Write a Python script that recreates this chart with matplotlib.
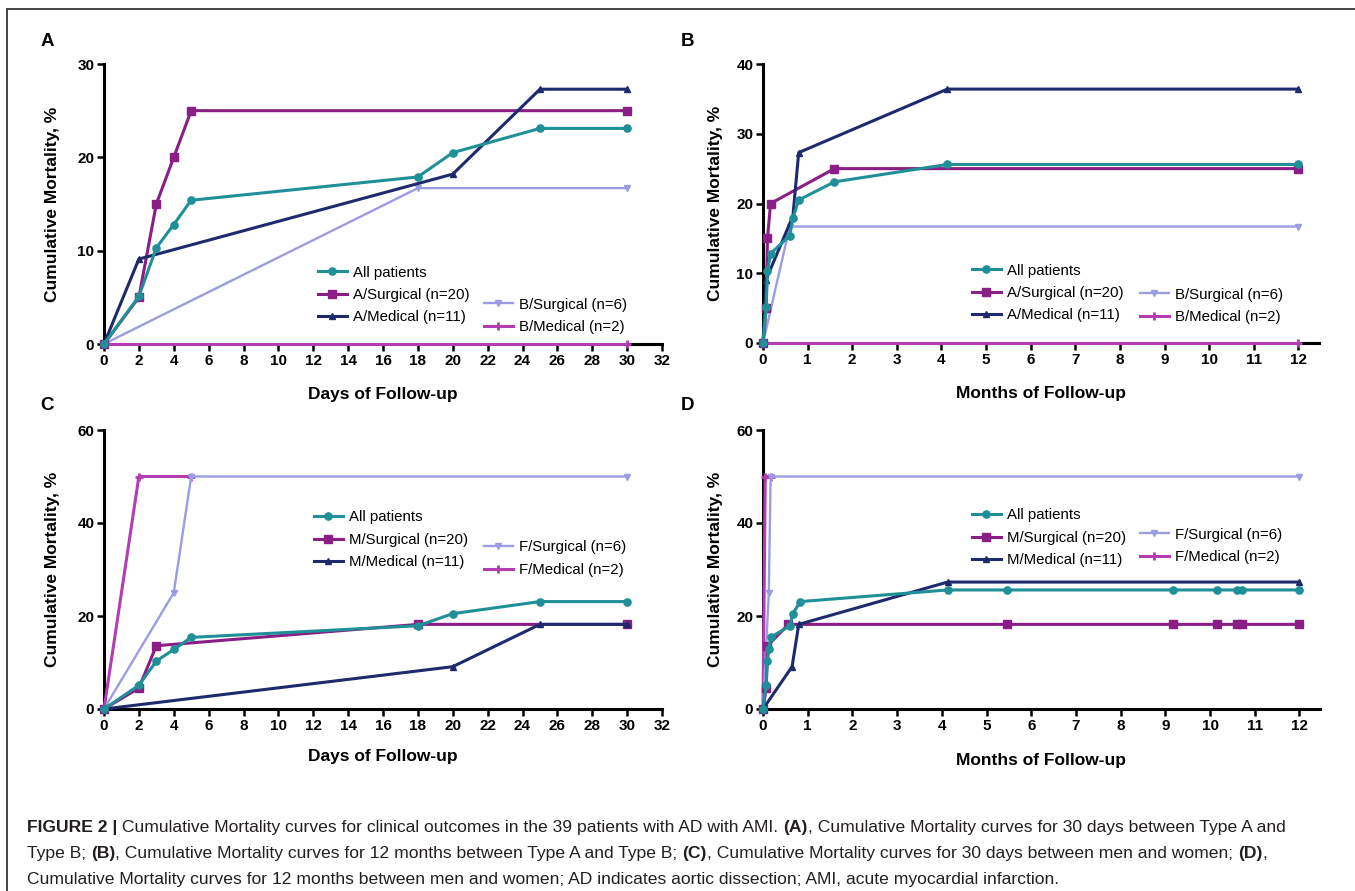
import matplotlib
matplotlib.use("Agg")
import matplotlib.pyplot as plt

plt.rcParams["font.family"] = ["Liberation Sans", "DejaVu Sans"]

W, H = 1355, 891

# ---- Panel A: 30 days, Type A vs Type B ----
a_all_x = [0, 2, 3, 4, 5, 18, 20, 25, 30]
a_all_y = [0, 5.1, 10.3, 12.8, 15.4, 17.9, 20.5, 23.1, 23.1]
a_surg_x = [0, 2, 3, 4, 5, 30]
a_surg_y = [0, 5, 15, 20, 25, 25]
a_med_x = [0, 2, 20, 25, 30]
a_med_y = [0, 9.1, 18.2, 27.3, 27.3]
b_surg_x = [0, 18, 30]
b_surg_y = [0, 16.7, 16.7]
b_med_x = [0, 30]
b_med_y = [0, 0]

# ---- Panel B: 12 months, Type A vs Type B ----
mb_all_x = [0, 0.07, 0.1, 0.17, 0.6, 0.67, 0.8, 1.6, 4.13, 12]
mb_all_y = [0, 5.1, 10.3, 12.8, 15.4, 17.9, 20.5, 23.1, 25.6, 25.6]
mb_asurg_x = [0, 0.07, 0.1, 0.17, 1.6, 12]
mb_asurg_y = [0, 5, 15, 20, 25, 25]
mb_amed_x = [0, 0.07, 0.67, 0.8, 4.13, 12]
mb_amed_y = [0, 9.1, 18.2, 27.3, 36.4, 36.4]
mb_bsurg_x = [0, 0.6, 12]
mb_bsurg_y = [0, 16.7, 16.7]
mb_bmed_x = [0, 12]
mb_bmed_y = [0, 0]

# ---- Panel C: 30 days, men vs women ----
c_all_x = [0, 2, 3, 4, 5, 18, 20, 25, 30]
c_all_y = [0, 5.1, 10.3, 12.8, 15.4, 17.9, 20.5, 23.1, 23.1]
c_msurg_x = [0, 2, 3, 18, 30]
c_msurg_y = [0, 4.5, 13.6, 18.2, 18.2]
c_mmed_x = [0, 20, 25, 30]
c_mmed_y = [0, 9.1, 18.2, 18.2]
c_fsurg_x = [0, 4, 5, 30]
c_fsurg_y = [0, 25, 50, 50]
c_fmed_x = [0, 2, 5]
c_fmed_y = [0, 50, 50]

# ---- Panel D: 12 months, men vs women ----
d_all_x = [0, 0.07, 0.1, 0.13, 0.17, 0.6, 0.67, 0.83, 4.13, 5.46, 9.17, 10.15, 10.6, 10.72, 12]
d_all_y = [0, 5.1, 10.3, 12.8, 15.4, 17.9, 20.5, 23.1, 25.6, 25.6, 25.6, 25.6, 25.6, 25.6, 25.6]
d_msurg_x = [0, 0.07, 0.1, 0.57, 5.46, 9.17, 10.15, 10.6, 10.72, 12]
d_msurg_y = [0, 4.5, 13.6, 18.2, 18.2, 18.2, 18.2, 18.2, 18.2, 18.2]
d_mmed_x = [0, 0.65, 0.8, 4.13, 12]
d_mmed_y = [0, 9.1, 18.2, 27.3, 27.3]
d_fsurg_x = [0, 0.13, 0.17, 12]
d_fsurg_y = [0, 25, 50, 50]
d_fmed_x = [0, 0.05, 0.17]
d_fmed_y = [0, 50, 50]

labels_type = ["All patients", "A/Surgical (n=20)", "A/Medical (n=11)",
               "B/Surgical (n=6)", "B/Medical (n=2)"]
labels_sex = ["All patients", "M/Surgical (n=20)", "M/Medical (n=11)",
              "F/Surgical (n=6)", "F/Medical (n=2)"]

day_ticks = list(range(0, 33, 2))
month_ticks = list(range(0, 13))

# colour, marker, markersize, linewidth
styles = [
    ("#1f8f98", "o", 5.2, 2.2),
    ("#8a1d86", "s", 5.2, 2.2),
    ("#1e2a6c", "^", 4.8, 2.2),
    ("#9c9ce4", "v", 4.8, 1.7),
    ("#b23db4", "+", 5.5, 2.2),
]

fig = plt.figure(figsize=(W / 100, H / 100), dpi=100)
cap = fig.add_axes([0, 0, 1, 1])
cap.axis("off")
cap.set_xlim(0, W)
cap.set_ylim(H, 0)

# frame of the figure
cap.plot([7, W], [8.5, 8.5], color="#444444", lw=1.4, clip_on=False)
cap.plot([7, 7], [8.5, H], color="#444444", lw=1.4, clip_on=False)


def px_axes(left, right, top, bottom):
    return fig.add_axes([left / W, 1 - bottom / H, (right - left) / W, (bottom - top) / H])


def draw_panel(ax, xs, ys, labels, xmax, xticks, ymax, yticks, xlabel,
               xlab_y, ylab_x, leg1, leg2):
    handles = [None] * 5
    for i in [4, 3, 1, 2, 0]:
        c, m, ms, lw = styles[i]
        mew = 2.0 if m == "+" else 1.0
        handles[i], = ax.plot(xs[i], ys[i], color=c, marker=m, ms=ms, lw=lw,
                              mew=mew, mec=c, label=labels[i], clip_on=False, zorder=3)
    ax.set_xlim(0, xmax)
    ax.set_ylim(0, ymax)
    ax.set_xticks(xticks)
    ax.set_yticks(yticks)
    for s in ["top", "right"]:
        ax.spines[s].set_visible(False)
    for s in ["left", "bottom"]:
        ax.spines[s].set_linewidth(2.2)
    ax.tick_params(direction="out", length=5, width=1.8, pad=2, labelsize=11)
    for t in ax.get_xticklabels() + ax.get_yticklabels():
        t.set_fontweight("bold")
    ax.set_xlabel(xlabel, fontsize=12.5, fontweight="bold")
    ax.set_ylabel("Cumulative Mortality, %", fontsize=12.5, fontweight="bold")
    ax.xaxis.set_label_coords(0.5, xlab_y)
    ax.xaxis.label.set_va("center")
    ax.yaxis.set_label_coords(ylab_x, 0.5)
    ax.yaxis.label.set_va("center")

    kw = dict(frameon=False, fontsize=10.8, handlelength=1.9, handletextpad=0.45,
              labelspacing=0.55, borderpad=0, borderaxespad=0, numpoints=1,
              loc="upper left", bbox_transform=cap.transData)
    l1 = ax.legend(handles=handles[:3], bbox_to_anchor=(leg1[0], leg1[1] - 8.5), **kw)
    ax.add_artist(l1)
    ax.legend(handles=handles[3:], bbox_to_anchor=(leg2[0], leg2[1] - 8.5), **kw)


axA = px_axes(104, 662, 64, 344)
draw_panel(axA,
           [a_all_x, a_surg_x, a_med_x, b_surg_x, b_med_x],
           [a_all_y, a_surg_y, a_med_y, b_surg_y, b_med_y],
           labels_type, 32, day_ticks, 30, [0, 10, 20, 30],
           "Days of Follow-up", -0.179, -0.093, (318, 274), (484, 306))

axB = px_axes(763, 1319, 64, 343)
draw_panel(axB,
           [mb_all_x, mb_asurg_x, mb_amed_x, mb_bsurg_x, mb_bmed_x],
           [mb_all_y, mb_asurg_y, mb_amed_y, mb_bsurg_y, mb_bmed_y],
           labels_type, 12.46, month_ticks, 40, [0, 10, 20, 30, 40],
           "Months of Follow-up", -0.18, -0.086, (972, 272), (1140, 296))

axC = px_axes(104, 662, 430, 709)
draw_panel(axC,
           [c_all_x, c_msurg_x, c_mmed_x, c_fsurg_x, c_fmed_x],
           [c_all_y, c_msurg_y, c_mmed_y, c_fsurg_y, c_fmed_y],
           labels_sex, 32, day_ticks, 60, [0, 20, 40, 60],
           "Days of Follow-up", -0.172, -0.093, (314, 519), (484, 549))

axD = px_axes(763, 1320, 430, 709)
draw_panel(axD,
           [d_all_x, d_msurg_x, d_mmed_x, d_fsurg_x, d_fmed_x],
           [d_all_y, d_msurg_y, d_mmed_y, d_fsurg_y, d_fmed_y],
           labels_sex, 12.46, month_ticks, 60, [0, 20, 40, 60],
           "Months of Follow-up", -0.186, -0.086, (972, 517), (1140, 536))

# panel letters
for letter, x, y in [("A", 47, 42), ("B", 687, 42), ("C", 47, 405), ("D", 687, 405)]:
    cap.text(x, y, letter, fontsize=13.5, fontweight="bold", ha="center", va="center")

# caption
caption_lines = [
    [("FIGURE 2 |", True),
     (" Cumulative Mortality curves for clinical outcomes in the 39 patients with AD with AMI. ", False),
     ("(A)", True),
     (", Cumulative Mortality curves for 30 days between Type A and", False)],
    [("Type B; ", False), ("(B)", True),
     (", Cumulative Mortality curves for 12 months between Type A and Type B; ", False),
     ("(C)", True),
     (", Cumulative Mortality curves for 30 days between men and women; ", False),
     ("(D)", True), (",", False)],
    [("Cumulative Mortality curves for 12 months between men and women; AD indicates aortic dissection; AMI, acute myocardial infarction.", False)],
]
for parts, y in zip(caption_lines, [835, 861, 887]):
    prev = None
    for txt, bold in parts:
        kw = dict(fontsize=12.6, color="#231f20", fontweight="bold" if bold else "normal",
                  va="bottom", ha="left")
        if prev is None:
            prev = cap.text(27, y, txt, **kw)
        else:
            prev = cap.annotate(txt, xy=(1, 0), xycoords=prev, annotation_clip=False, **kw)

fig.savefig("out.png", dpi=100)
